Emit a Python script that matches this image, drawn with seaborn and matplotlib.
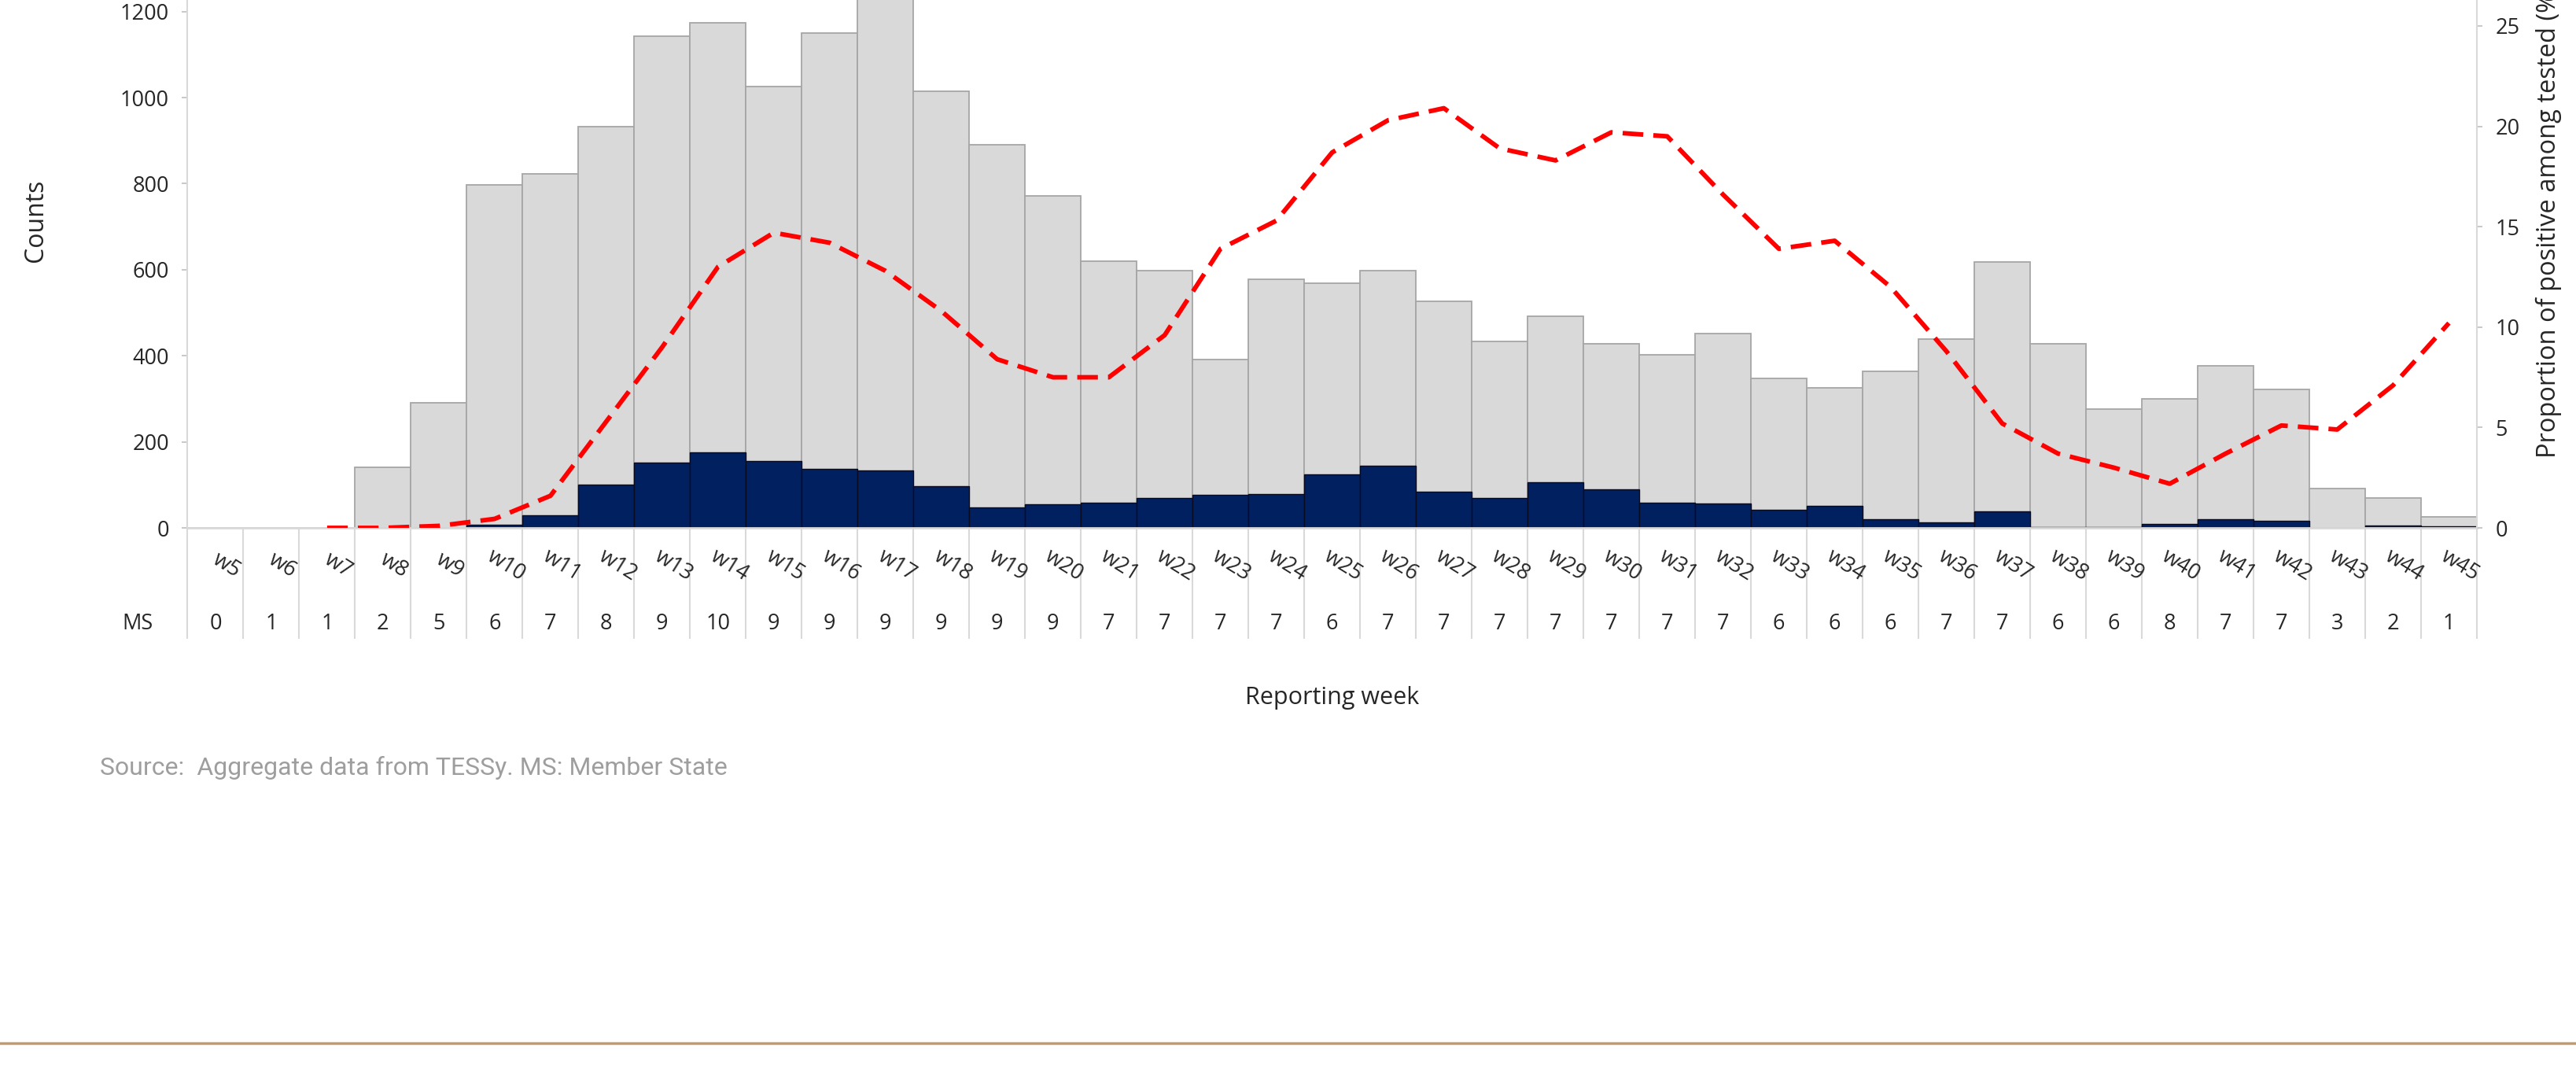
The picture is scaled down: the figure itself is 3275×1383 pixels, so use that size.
import numpy as np
import seaborn as sns
import matplotlib.pyplot as plt
from matplotlib.lines import Line2D

sns.set_style("white")
plt.rcParams['font.family'] = ['Open Sans', 'DejaVu Sans']

# data
weeks = ["w%d" % i for i in range(5, 46)]
member_states = [0, 1, 1, 2, 5, 6, 7, 8, 9, 10, 9, 9, 9, 9, 9, 9, 7, 7, 7, 7, 6,
                 7, 7, 7, 7, 7, 7, 7, 6, 6, 6, 7, 7, 6, 6, 8, 7, 7, 3, 2, 1]
tested = [0, 0, 0, 140, 290, 797, 822, 932, 1142, 1174, 1025, 1150, 1290, 1015,
          890, 771, 620, 598, 392, 578, 568, 598, 527, 433, 492, 428, 402, 452,
          348, 325, 363, 438, 618, 427, 277, 300, 377, 322, 92, 70, 25]
positive = [0, 0, 0, 0, 0, 8, 29, 100, 152, 176, 156, 138, 134, 97, 48, 55, 59,
            70, 76, 79, 125, 145, 84, 70, 107, 90, 58, 57, 43, 51, 20, 13, 38,
            2, 2, 9, 20, 16, 0, 6, 3]
positivity = [np.nan, np.nan, 0.0, 0.0, 0.1, 0.45, 1.6, 5.3, 9.0, 13.0, 14.7,
              14.2, 12.8, 10.8, 8.4, 7.5, 7.5, 9.6, 13.9, 15.3, 18.7, 20.3, 20.9,
              18.9, 18.3, 19.7, 19.5, 16.6, 13.9, 14.3, 12.0, 8.8, 5.2, 3.7, 3.0,
              2.2, 3.7, 5.1, 4.9, 7.1, 10.2]

fig = plt.figure(figsize=(32.75, 13.83), dpi=100)
ax = fig.add_axes([0.0728, 0.5148, 0.8887, 0.5537])

sns.barplot(x=weeks, y=tested, color="#D9D9D9", saturation=1, width=1,
            edgecolor="#A6A6A6", linewidth=1.3, ax=ax)
n_gray = len(ax.patches)
sns.barplot(x=weeks, y=positive, color="#002060", saturation=1, width=1,
            edgecolor="#0B0B20", linewidth=1.0, ax=ax)
for p in ax.patches[n_gray:]:
    if p.get_height() == 0:
        p.set_linewidth(0)

ax.set_xlim(-0.5, len(weeks) - 0.5)
ax.set_ylim(0, 1400)
ax.set_yticks(range(0, 1201, 200))
ax.set_xticks([])
ax.set_xlabel("")
ax.set_ylabel("")
ax.tick_params(axis='y', length=5, width=1.2, color='#BFBFBF', pad=12,
               labelsize=19.5, labelcolor='#262626', left=True)
for s in ['top', 'right']:
    ax.spines[s].set_visible(False)
ax.spines['left'].set_color('#D9D9D9')
ax.spines['left'].set_linewidth(1.5)
ax.spines['bottom'].set_color('#D9D9D9')
ax.spines['bottom'].set_linewidth(2)

# positivity line on the right axis
ax2 = ax.twinx()
idx = [i for i, v in enumerate(positivity) if not np.isnan(v)]
sns.lineplot(x=idx, y=[positivity[i] for i in idx], ax=ax2, color='#FF0000',
             linewidth=4.2)
ax2.lines[0].set_linestyle((0, (4.5, 2.2)))
ax2.set_xlim(-0.5, len(weeks) - 0.5)
ax2.set_ylim(0, 30)
ax2.set_yticks(range(0, 26, 5))
ax2.set_ylabel("")
ax2.tick_params(axis='y', length=5, width=1.2, color='#BFBFBF', pad=12,
                labelsize=19.5, labelcolor='#262626', right=True)
for s in ['top', 'left', 'bottom']:
    ax2.spines[s].set_visible(False)
ax2.spines['right'].set_color('#D9D9D9')
ax2.spines['right'].set_linewidth(1.5)

# category table below the axis
tr = ax.get_xaxis_transform()
ax.vlines(np.arange(-0.5, len(weeks)), -0.184, 0, transform=tr, clip_on=False,
          colors='#D9D9D9', linewidth=1.5)
for i, w in enumerate(weeks):
    ax.text(i + 0.2, -0.062, w, transform=tr, rotation=-32, ha='center',
            va='center', fontsize=19.5, color='#262626')
    ax.text(i, -0.159, str(member_states[i]), transform=tr, ha='center',
            va='center', fontsize=19.5, color='#262626')
ax.text(-1.39, -0.159, "MS", transform=tr, ha='center', va='center',
        fontsize=19.5, color='#262626')

fig.text(0.014, 0.797, "Counts", rotation=90, ha='center', va='center',
         fontsize=23, color='#262626')
fig.text(0.9893, 0.797, "Proportion of positive among tested (%)", rotation=90,
         ha='center', va='center', fontsize=23.5, color='#262626')
fig.text(0.517, 0.3586, "Reporting week", ha='center', va='center',
         fontsize=22, color='#262626')
fig.text(0.0388, 0.294, "Source:  Aggregate data from TESSy. MS: Member State",
         ha='left', va='center', fontsize=23, color='#9E9E9E',
         family=['Roboto', 'DejaVu Sans'])
fig.add_artist(Line2D([0, 1], [0.0412, 0.0412], transform=fig.transFigure,
                      color='#C49A6C', linewidth=2.5))

fig.savefig("out.png", dpi=100)
